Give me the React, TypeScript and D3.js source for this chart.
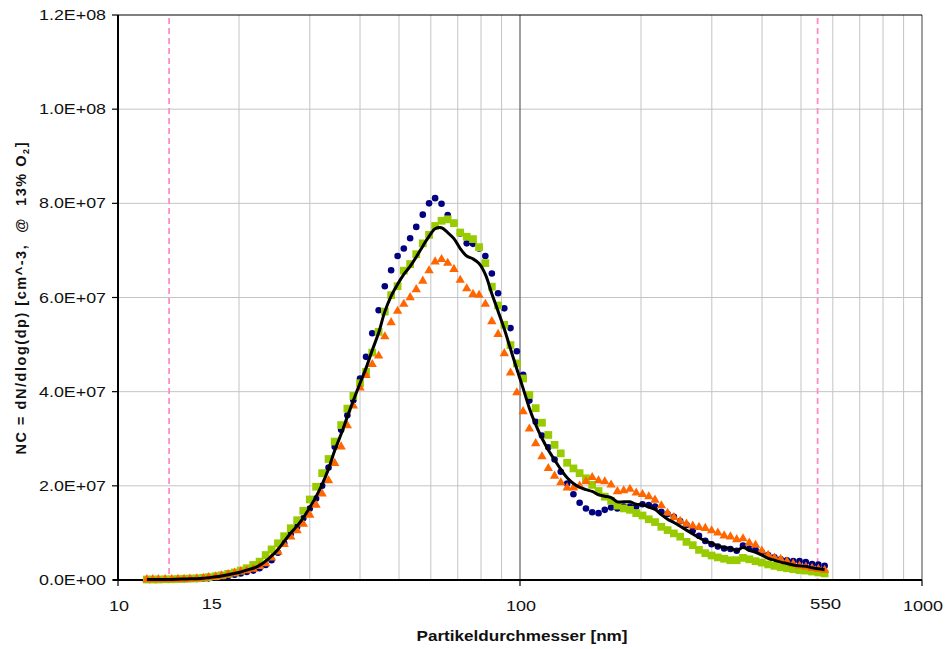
import React from 'react';
import * as d3 from 'd3';

// SMPS channel mid-point diameters [nm], 64 channels per decade
const DIAMETERS = [
  11.8, 12.2, 12.6, 13.1, 13.6, 14.1, 14.6, 15.1, 15.7, 16.3,
  16.8, 17.5, 18.1, 18.8, 19.5, 20.2, 20.9, 21.7, 22.5, 23.3,
  24.1, 25.0, 25.9, 26.9, 27.9, 28.9, 30.0, 31.1, 32.2, 33.4,
  34.6, 35.9, 37.2, 38.5, 40.0, 41.4, 42.9, 44.5, 46.1, 47.8,
  49.6, 51.4, 53.3, 55.2, 57.3, 59.4, 61.5, 63.8, 66.1, 68.5,
  71.0, 73.7, 76.4, 79.1, 82.0, 85.1, 88.2, 91.4, 94.7, 98.2,
  101.8, 105.5, 109.4, 113.4, 117.6, 121.9, 126.3, 131.0, 135.8, 140.7,
  145.9, 151.2, 156.8, 162.5, 168.5, 174.7, 181.1, 187.7, 194.6, 201.7,
  209.1, 216.7, 224.7, 232.9, 241.4, 250.3, 259.5, 269.0, 278.8, 289.0,
  299.6, 310.6, 322.0, 333.8, 346.0, 358.7, 371.8, 385.4, 399.5, 414.2,
  429.4, 445.1, 461.4, 478.3, 495.8, 514.0, 532.8, 552.3, 572.5,
];

// dN/dlog(dp) values in units of 1E+06 cm^-3
const NAVY_E6 = [
  0.1, 0.1, 0.1, 0.1, 0.1, 0.15, 0.15, 0.2, 0.2, 0.25,
  0.35, 0.5, 0.65, 0.85, 1.1, 1.4, 1.7, 2.0, 2.5, 3.2,
  4.2, 5.8, 7.8, 9.8, 11.3, 13.1, 15.2, 17.3, 20.0, 23.9,
  28.3, 31.9, 35.0, 38.2, 42.8, 47.4, 52.4, 57.3, 62.4, 65.8,
  68.8, 70.4, 72.6, 75.0, 77.6, 80.0, 81.1, 79.9, 77.5, 75.8,
  73.6, 71.5, 71.4, 70.4, 68.8, 65.1, 60.9, 57.7, 53.5, 48.6,
  43.6, 38.1, 33.6, 30.7, 28.2, 25.6, 23.0, 20.5, 18.2, 16.4,
  15.2, 14.4, 14.2, 14.9, 15.4, 15.2, 15.6, 15.6, 15.6, 16.1,
  15.9, 15.6, 14.5, 14.0, 13.4, 12.5, 11.7, 10.5, 9.4, 8.3,
  7.6, 7.1, 6.7, 6.6, 6.2, 7.3, 6.7, 6.4, 5.9, 5.3,
  4.8, 4.4, 4.2, 4.0, 4.0, 3.8, 3.4, 3.3, 3.0,
];

const GREEN_E6 = [
  0.1, 0.1, 0.1, 0.15, 0.15, 0.2, 0.25, 0.3, 0.35, 0.45,
  0.6, 0.8, 1.0, 1.3, 1.6, 2.0, 2.5, 3.2, 3.9, 5.3,
  6.5, 7.8, 9.3, 11.0, 12.7, 14.7, 17.1, 19.8, 22.7, 25.7,
  29.4, 32.9, 36.4, 39.1, 41.8, 44.2, 48.3, 52.7, 57.0, 60.5,
  62.4, 65.7, 67.1, 69.2, 71.5, 73.3, 75.2, 76.3, 76.6, 75.8,
  73.8, 72.9, 72.4, 70.7, 67.3, 62.3, 58.3, 54.2, 49.9, 46.0,
  42.8, 39.3, 36.5, 33.4, 30.8, 28.7, 26.9, 24.9, 23.7, 22.7,
  21.6, 20.2, 18.9, 17.7, 16.8, 15.8, 15.2, 14.9, 14.2, 13.7,
  12.9, 12.3, 11.3, 10.6, 9.9, 9.2, 8.1, 7.4, 6.4, 5.7,
  5.2, 4.8, 4.5, 4.2, 4.2, 4.7, 4.4, 4.0, 3.7, 3.3,
  3.0, 2.7, 2.5, 2.3, 2.1, 2.0, 1.8, 1.6, 1.4,
];

const ORANGE_E6 = [
  0.1, 0.1, 0.1, 0.1, 0.15, 0.2, 0.2, 0.25, 0.3, 0.4,
  0.55, 0.7, 0.9, 1.2, 1.5, 1.8, 2.0, 2.3, 2.9, 3.5,
  4.7, 6.0, 7.6, 9.2, 10.5, 11.9, 13.8, 15.9, 18.3, 21.1,
  24.8, 28.3, 32.8, 37.0, 40.8, 43.5, 45.8, 47.6, 51.7, 54.7,
  57.1, 58.6, 60.0, 61.7, 63.5, 65.7, 67.6, 68.1, 67.3, 66.0,
  63.7, 61.9, 60.7, 60.5, 58.6, 54.9, 52.2, 48.1, 44.0, 39.8,
  35.8, 32.1, 29.0, 26.2, 23.7, 22.1, 20.7, 19.6, 19.6, 20.0,
  20.9, 21.8, 21.1, 20.9, 20.2, 18.8, 19.0, 19.3, 18.5, 18.2,
  17.7, 17.0, 15.8, 14.2, 13.3, 12.5, 11.9, 11.5, 11.2, 11.0,
  10.5, 10.0, 9.4, 9.2, 8.6, 8.8, 7.9, 7.4, 6.2, 5.3,
  4.7, 4.4, 3.9, 3.4, 3.0, 2.8, 2.5, 2.3, 2.1,
];

// black smoothed line
const LINE_E6 = [
  0.1, 0.1, 0.1, 0.12, 0.13, 0.18, 0.2, 0.25, 0.28, 0.37,
  0.5, 0.67, 0.85, 1.1, 1.4, 1.7, 2.1, 2.5, 3.1, 4.0,
  5.1, 6.5, 8.2, 10.0, 11.5, 13.2, 15.4, 17.7, 20.3, 23.6,
  27.5, 31.0, 34.7, 38.1, 41.8, 45.0, 48.8, 52.5, 57.0, 60.3,
  62.8, 64.9, 66.6, 68.6, 70.9, 73.0, 74.6, 74.8, 73.8, 72.5,
  70.4, 68.8, 68.2, 67.2, 64.9, 60.8, 57.1, 53.3, 49.1, 44.8,
  40.7, 36.5, 33.0, 30.1, 27.6, 25.5, 23.5, 21.7, 20.5, 19.7,
  19.2, 18.8, 18.1, 17.8, 17.5, 16.6, 16.6, 16.6, 16.1, 16.0,
  15.5, 15.0, 13.9, 12.9, 12.2, 11.4, 10.6, 9.8, 9.0, 8.3,
  7.8, 7.3, 6.9, 6.7, 6.3, 6.9, 6.3, 5.9, 5.3, 4.6,
  4.2, 3.8, 3.5, 3.2, 3.0, 2.9, 2.6, 2.4, 2.2,
];

const Y_TICKS = [0, 2e7, 4e7, 6e7, 8e7, 1e8, 1.2e8];
const X_TICK_LABELS = ['10', '15', '100', '550', '1000'];
const REF_LINES = [13.4, 550];

const W = 946;
const H = 649;
const margin = { top: 15, right: 24, bottom: 69, left: 118 };
const FONT = '"Liberation Sans", Arial, sans-serif';

const fmtSci = (v: number) => {
  if (v === 0) return '0.0E+00';
  const e = Math.floor(Math.log10(v));
  const m = v / Math.pow(10, e);
  return `${m.toFixed(1)}E+${String(e).padStart(2, '0')}`;
};

export default function App() {
  const x = d3.scaleLog().domain([10, 1000]).range([margin.left, W - margin.right]);
  const y = d3.scaleLinear().domain([0, 1.2e8]).range([H - margin.bottom, margin.top]);
  const x0 = margin.left, x1 = W - margin.right, y0 = H - margin.bottom, y1 = margin.top;

  const allTicks = x.ticks();
  const isMajor = (t: number) => Math.abs(Math.log10(t) - Math.round(Math.log10(t))) < 1e-9;
  const minor = allTicks.filter((t) => !isMajor(t));
  const major = allTicks.filter((t) => isMajor(t));

  const pts = (arr: number[]) => DIAMETERS.map((d, i) => [x(d), y(arr[i] * 1e6)] as [number, number]);
  const line = d3.line().curve(d3.curveCatmullRom.alpha(0.5));
  const sq = d3.symbol().type(d3.symbolSquare).size(60)()!;
  const tri = d3.symbol().type(d3.symbolTriangle).size(38)()!;

  // label tweaks for the hand-placed x labels
  const labelShift: Record<string, number> = { '15': 22, '550': 7 };
  const labelWidth: Record<string, number> = { '10': 20, '15': 20, '100': 30, '550': 31, '1000': 40 };

  return (
    <svg width={W} height={H} style={{ position: 'absolute', left: 0, top: 0, background: '#fff' }}
      fontFamily={FONT}>
      {/* horizontal grid */}
      {Y_TICKS.filter((t) => t > 0 && t < 1.2e8).map((t) => (
        <line key={t} x1={x0} x2={x1} y1={y(t)} y2={y(t)} stroke="#c4c4c4" strokeWidth={1} />
      ))}
      {/* vertical minor grid */}
      {minor.map((t) => (
        <line key={t} x1={x(t)} x2={x(t)} y1={y1} y2={y0} stroke="#c4c4c4" strokeWidth={1} />
      ))}
      {major.filter((t) => t > 10).map((t) => (
        <line key={t} x1={x(t)} x2={x(t)} y1={y1} y2={y0} stroke="#606060" strokeWidth={1.2} />
      ))}
      {/* reference lines */}
      {REF_LINES.map((r) => (
        <line key={r} x1={x(r)} x2={x(r)} y1={y1 + 3} y2={y0} stroke="#ff8cc6" strokeWidth={1.8}
          strokeDasharray="6,4" />
      ))}
      {/* frame */}
      <line x1={x0} x2={x1} y1={y1} y2={y1} stroke="#000" strokeWidth={1.2} />
      <line x1={x0} x2={x0} y1={y1} y2={y0} stroke="#000" strokeWidth={2} />
      <line x1={x0 - 5} x2={x1} y1={y0} y2={y0} stroke="#000" strokeWidth={2} />
      {Y_TICKS.map((t) => (
        <line key={t} x1={x0 - 6} x2={x0} y1={y(t)} y2={y(t)} stroke="#000" strokeWidth={1.2} />
      ))}
      {major.map((t) => (
        <line key={t} x1={x(t)} x2={x(t)} y1={y0} y2={y0 + 6} stroke="#000" strokeWidth={1.2} />
      ))}

      {/* series */}
      {pts(NAVY_E6).map(([px, py], i) => (
        <circle key={'n' + i} cx={px} cy={py} r={3.3} fill="#000080" />
      ))}
      {pts(GREEN_E6).map(([px, py], i) => (
        <path key={'g' + i} d={sq} transform={`translate(${px},${py})`} fill="#99cc00" />
      ))}
      {pts(ORANGE_E6).map(([px, py], i) => (
        <path key={'o' + i} d={tri} transform={`translate(${px},${py})`} fill="#ff6600" />
      ))}
      <path d={line(pts(LINE_E6)) || ''} fill="none" stroke="#000" strokeWidth={3} />

      {/* y tick labels */}
      {Y_TICKS.map((t) => (
        <text key={t} x={106} y={y(t) + 5} textAnchor="end" fontSize={15} fill="#111"
          textLength={67} lengthAdjust="spacingAndGlyphs">{fmtSci(t)}</text>
      ))}
      {/* x tick labels */}
      {X_TICK_LABELS.map((l) => {
        const extra = labelShift[l] !== undefined;
        return (
          <text key={l} x={x(+l) + (labelShift[l] || 0) + 1} y={extra ? 609 : 611} textAnchor="middle"
            fontSize={15} fill="#111" textLength={labelWidth[l]} lengthAdjust="spacingAndGlyphs">{l}</text>
        );
      })}
      {/* axis titles */}
      <text x={(x0 + x1) / 2 + 2} y={641} textAnchor="middle" fontSize={14.5} fontWeight="bold" fill="#111"
        textLength={211} lengthAdjust="spacingAndGlyphs">Partikeldurchmesser [nm]</text>
      <text transform={`translate(26,${(y0 + y1) / 2 + 1}) rotate(-90)`} textAnchor="middle" fontSize={14.5}
        fontWeight="bold" fill="#111" style={{ whiteSpace: 'pre' }} textLength={312} lengthAdjust="spacing">
        {'NC = dN/dlog(dp) [cm^-3,  @  13% O'}
        <tspan fontSize={9} dy={3}>2</tspan>
        <tspan dy={-3}>]</tspan>
      </text>
    </svg>
  );
}
